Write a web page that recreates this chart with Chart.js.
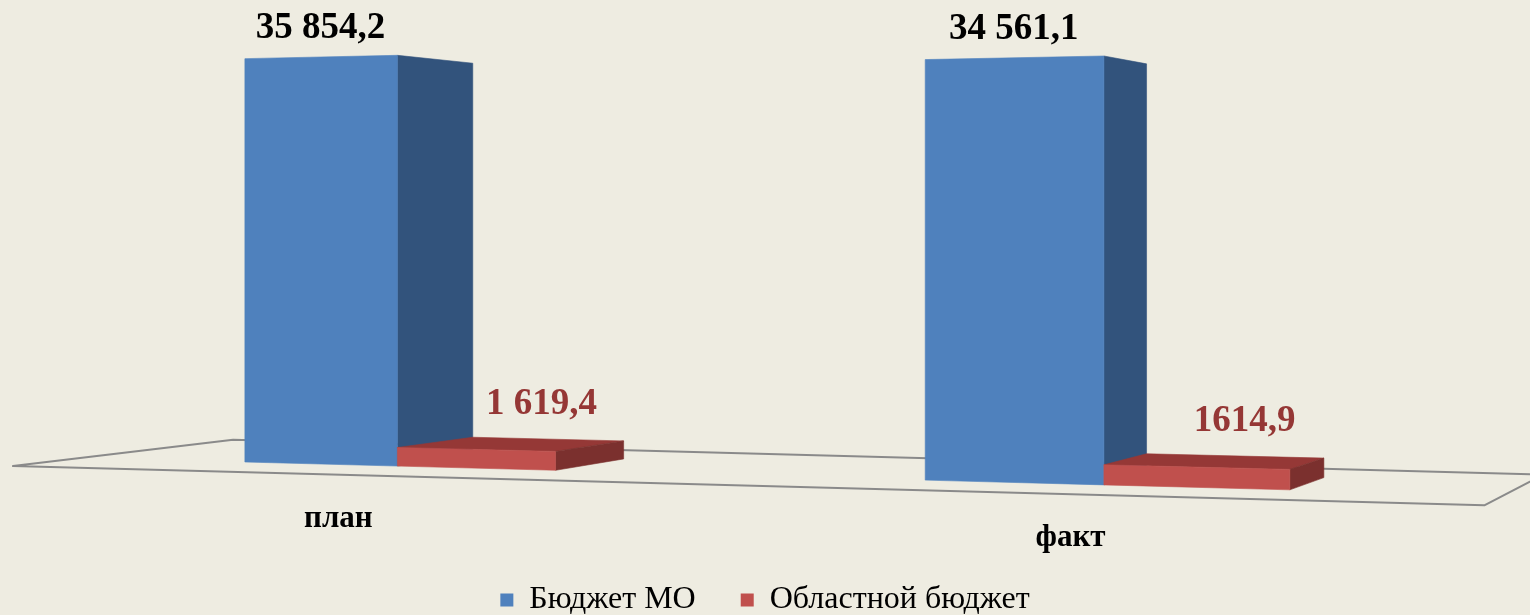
<!DOCTYPE html>
<html>
<head>
<meta charset="utf-8">
<script src="https://cdn.jsdelivr.net/npm/chart.js@4/dist/chart.umd.min.js"></script>
<style>
  html, body { margin: 0; padding: 0; background: #eeece1; }
  canvas { display: block; }
</style>
</head>
<body>
<canvas id="budgetChart" width="1530" height="615"></canvas>
<script>
const categories = ['план', 'факт'];
const seriesNames = ['Бюджет МО', 'Областной бюджет'];
const budgetMO = [35854.2, 34561.1];
const regionalBudget = [1619.4, 1614.9];
const labelsMO = ['35 854,2', '34 561,1'];
const labelsRegional = ['1 619,4', '1614,9'];

const SERIF = '"Liberation Serif", "Times New Roman", serif';

// colours of the three visible faces of each series
const faces = [
    { front: '#4f81bd', side: '#32537c', top: '#6b95cc' },
    { front: '#c0504d', side: '#7b302e', top: '#953836' }
];

// perspective used to fake the Excel 3D look
const view = {
    xc: 164.85,      // perspective centre, px right of chart area left
    left: 245,       // where that centre lands on screen
    horizon: 240,
    baseDrop: 222,   // base line distance below horizon at the centre
    a: 0.00012,      // front plane turn
    vpX: 2024, vpY: 226, k: 0.0486,   // depth vanishing point
    floorFront: -0.72, floorBack: 1.72
};

function project(area, base, px, py, u) {
    const t = px - area.left - view.xc;
    const w = 1 - view.a * t;
    const x0 = view.left + t / w;
    const y0 = view.horizon + (py - base + view.baseDrop) / w;
    const s = 1 / (1 + view.k * u);
    return { x: view.vpX + (x0 - view.vpX) * s, y: view.vpY + (y0 - view.vpY) * s };
}

function fillPoly(ctx, pts, color) {
    ctx.beginPath();
    pts.forEach((p, i) => i ? ctx.lineTo(p.x, p.y) : ctx.moveTo(p.x, p.y));
    ctx.closePath();
    ctx.fillStyle = color;
    ctx.fill();
    ctx.strokeStyle = color;
    ctx.lineWidth = 0.6;
    ctx.stroke();
}

const labelSets = [
    { texts: labelsMO, color: '#000000', u: 0, dx: 0, dy: -19 },
    { texts: labelsRegional, color: '#953735', u: 0.5, dx: 29, dy: -30 }
];

const bars3d = {
    id: 'bars3d',
    beforeDatasetsDraw(chart) {
        const ctx = chart.ctx;
        const area = chart.chartArea;
        const zero = chart.scales.y.getPixelForValue(0);
        const P = (x, y, u) => project(area, zero, x, y, u);

        ctx.save();

        // floor outline
        const floor = [
            P(area.left, zero, view.floorFront),
            P(area.right, zero, view.floorFront),
            P(area.right, zero, view.floorBack),
            P(area.left, zero, view.floorBack)
        ];
        ctx.beginPath();
        floor.forEach((p, i) => i ? ctx.lineTo(p.x, p.y) : ctx.moveTo(p.x, p.y));
        ctx.closePath();
        ctx.strokeStyle = '#8a8a8a';
        ctx.lineWidth = 2;
        ctx.lineJoin = 'round';
        ctx.stroke();

        // bars, back to front / left to right
        categories.forEach((cat, i) => {
            chart.data.datasets.forEach((ds, d) => {
                if (!chart.isDatasetVisible(d)) return;
                const el = chart.getDatasetMeta(d).data[i];
                const { x, y, base, width } = el.getProps(['x', 'y', 'base', 'width'], true);
                const L = x - width / 2, R = x + width / 2;
                const col = faces[d];
                const fTL = P(L, y, 0), fTR = P(R, y, 0), fBR = P(R, base, 0), fBL = P(L, base, 0);
                const bTL = P(L, y, 1), bTR = P(R, y, 1), bBR = P(R, base, 1);
                if (bTL.y < fTL.y) fillPoly(ctx, [fTL, fTR, bTR, bTL], col.top);
                fillPoly(ctx, [fTR, bTR, bBR, fBR], col.side);
                fillPoly(ctx, [fTL, fTR, fBR, fBL], col.front);
            });
        });

        // value labels
        ctx.font = `bold 37px ${SERIF}`;
        ctx.textAlign = 'center';
        ctx.textBaseline = 'alphabetic';
        chart.data.datasets.forEach((ds, d) => {
            if (!chart.isDatasetVisible(d)) return;
            const set = labelSets[d];
            chart.getDatasetMeta(d).data.forEach((el, i) => {
                const { x, y } = el.getProps(['x', 'y'], true);
                const p = P(x, y, set.u);
                ctx.fillStyle = set.color;
                ctx.fillText(set.texts[i], p.x + set.dx, p.y + set.dy);
            });
        });

        // category labels under the front edge of the floor
        ctx.font = `bold 31px ${SERIF}`;
        ctx.fillStyle = '#000000';
        categories.forEach((cat, i) => {
            const p = P(chart.scales.x.getPixelForValue(i), zero, view.floorFront);
            ctx.fillText(cat, p.x, p.y + 52);
        });

        ctx.restore();
        return false;
    }
};

new Chart(document.getElementById('budgetChart'), {
    type: 'bar',
    plugins: [bars3d],
    data: {
        labels: categories,
        datasets: [
            {
                label: seriesNames[0],
                data: budgetMO,
                backgroundColor: faces[0].front,
                borderWidth: 0,
                categoryPercentage: 0.4762,
                barPercentage: 1
            },
            {
                label: seriesNames[1],
                data: regionalBudget,
                backgroundColor: faces[1].front,
                borderWidth: 0,
                categoryPercentage: 0.4762,
                barPercentage: 1
            }
        ]
    },
    options: {
        responsive: false,
        animation: false,
        events: [],
        layout: { padding: { left: 136, right: 136, top: 89, bottom: -11 } },
        plugins: {
            legend: {
                position: 'bottom',
                labels: {
                    boxWidth: 13,
                    boxHeight: 13,
                    padding: 45,
                    color: '#000000',
                    font: { family: SERIF, size: 32 }
                }
            },
            tooltip: { enabled: false }
        },
        scales: {
            x: { display: false },
            y: { display: false, min: 0, max: 40000 }
        }
    }
});
</script>
</body>
</html>
